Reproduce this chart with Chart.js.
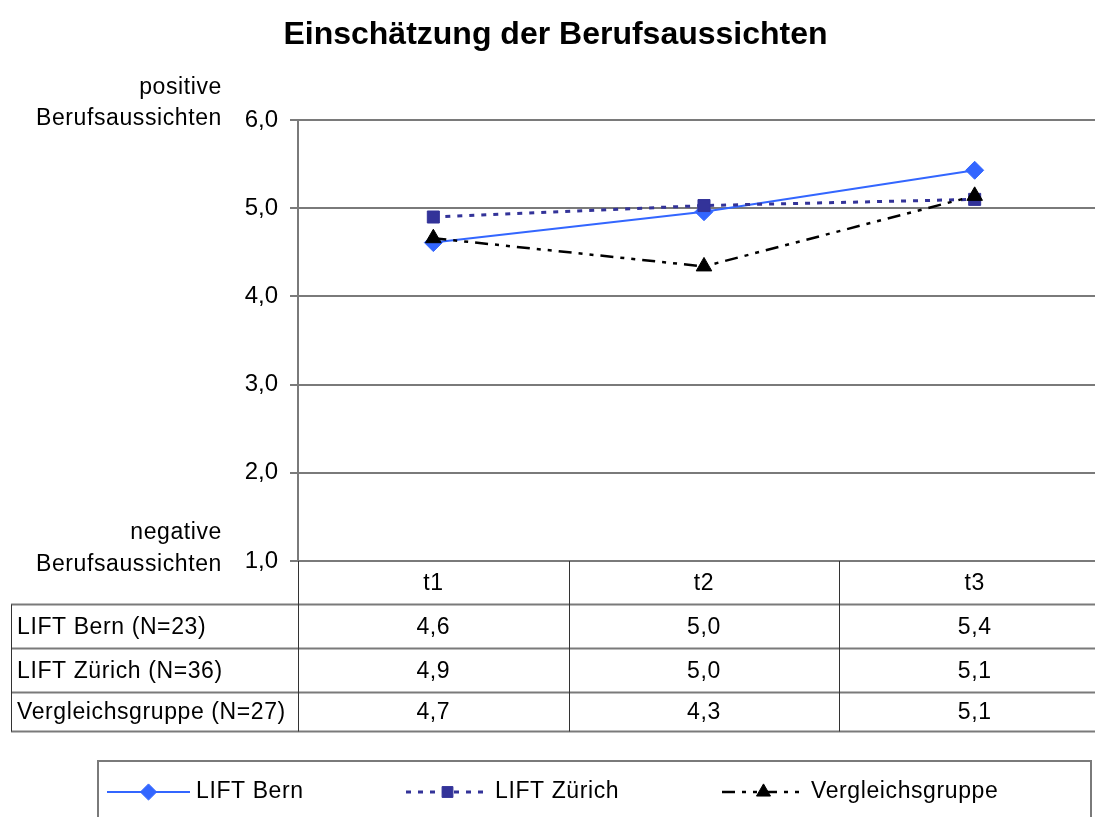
<!DOCTYPE html>
<html><head><meta charset="utf-8">
<script src="https://cdn.jsdelivr.net/npm/chart.js@4.4.1/dist/chart.umd.min.js"></script>
<style>
html,body{margin:0;padding:0;overflow:hidden;background:#fff;width:1095px;height:817px}
#wrap{position:absolute;left:0;top:0;width:1120px;height:817px}
</style></head><body><div id="wrap"><canvas id="c" width="1120" height="817"></canvas></div>
<script>
// ---- data ----
const categories = ['t1', 't2', 't3'];
const seriesNames = ['LIFT Bern', 'LIFT Zürich', 'Vergleichsgruppe'];
const sampleSizes = [23, 36, 27];
const bern = [4.61, 4.96, 5.43];
const zuerich = [4.90, 5.03, 5.10];
const vergleich = [4.66, 4.34, 5.14];
const yTicks = [1, 2, 3, 4, 5, 6];
const titleText = 'Einschätzung der Berufsaussichten';
const topAxisLabel = ['positive', 'Berufsaussichten'];
const bottomAxisLabel = ['negative', 'Berufsaussichten'];

const FONT = '"Liberation Sans", Arial, Helvetica, sans-serif';
const fmt = v => v.toFixed(1).replace('.', ',');

const seriesValues = [bern, zuerich, vergleich];
const styles = [
  {color:'#3366ff', width:2, dash:[], point:'rectRot', r:9, order:2},
  {color:'#333399', width:3, dash:[5,7], point:'rect', r:8.5, order:1},
  {color:'#000000', width:2.5, dash:[13,7,4,7,4,7], point:'triangle', r:9, order:0}
];

const datasets = seriesNames.map((name, i) => ({
  label: name,
  data: seriesValues[i],
  borderColor: styles[i].color,
  backgroundColor: styles[i].color,
  borderWidth: styles[i].width,
  borderDash: styles[i].dash,
  pointStyle: styles[i].point,
  pointRadius: styles[i].r,
  pointHoverRadius: styles[i].r,
  pointBackgroundColor: styles[i].color,
  pointBorderColor: styles[i].color,
  pointBorderWidth: 1,
  tension: 0,
  fill: false,
  order: styles[i].order
}));

const GRID = '#7a7a7a';
const TXT = '23px ' + FONT;
const SPACING = '0.6px';

const extras = {
  id: 'extras',
  afterDraw(chart) {
    const ctx = chart.ctx;
    const ca = chart.chartArea;
    const ys = chart.scales.y, xs = chart.scales.x;
    const n = categories.length;
    const colW = (ca.right - ca.left) / n;
    ctx.save();
    ctx.letterSpacing = SPACING;
    ctx.fillStyle = '#000';
    // side axis labels
    ctx.font = TXT;
    ctx.textAlign = 'right';
    ctx.textBaseline = 'middle';
    const yTop = ys.getPixelForValue(6), yBot = ys.getPixelForValue(1);
    ctx.fillText(topAxisLabel[0], 222, yTop - 32);
    ctx.fillText(topAxisLabel[1], 222, yTop - 1);
    ctx.fillText(bottomAxisLabel[0], 222, yBot - 28);
    ctx.fillText(bottomAxisLabel[1], 222, yBot + 4);

    // data table
    const tableLeft = 11;
    const rightEdge = chart.width;
    const rowTops = [yBot, yBot + 43.5, yBot + 87.5, yBot + 131.5, yBot + 170.5];
    ctx.strokeStyle = GRID;
    ctx.lineWidth = 2;
    for (let k = 1; k < rowTops.length; k++) {
      ctx.beginPath();
      ctx.moveTo(tableLeft, rowTops[k]);
      ctx.lineTo(rightEdge, rowTops[k]);
      ctx.stroke();
    }
    ctx.strokeStyle = '#333';
    ctx.lineWidth = 1;
    ctx.beginPath();
    ctx.moveTo(tableLeft + 0.5, rowTops[1]);
    ctx.lineTo(tableLeft + 0.5, rowTops[4]);
    ctx.stroke();
    for (let c = 0; c <= n; c++) {
      const x = Math.round(ca.left + c * colW) + 0.5;
      ctx.beginPath();
      ctx.moveTo(x, rowTops[0]);
      ctx.lineTo(x, rowTops[4]);
      ctx.stroke();
    }
    ctx.font = TXT;
    ctx.textAlign = 'center';
    ctx.textBaseline = 'middle';
    categories.forEach((cat, i) => {
      ctx.fillText(cat, xs.getPixelForValue(i), (rowTops[0] + rowTops[1]) / 2 + 1);
    });
    seriesNames.forEach((name, r) => {
      const yc = (rowTops[r + 1] + rowTops[r + 2]) / 2 + 1;
      ctx.textAlign = 'left';
      ctx.fillText(name + ' (N=' + sampleSizes[r] + ')', 17, yc);
      ctx.textAlign = 'center';
      seriesValues[r].forEach((v, i) => {
        ctx.fillText(fmt(v), xs.getPixelForValue(i), yc);
      });
    });

    // legend
    const lgTop = 761, lgLeft = 98, lgRight = 1091;
    ctx.strokeStyle = GRID;
    ctx.lineWidth = 2;
    ctx.beginPath();
    ctx.moveTo(lgLeft, 840);
    ctx.lineTo(lgLeft, lgTop);
    ctx.lineTo(lgRight, lgTop);
    ctx.lineTo(lgRight, 840);
    ctx.stroke();
    const itemX = [107, 406, 722];
    const ly = 792;
    chart.data.datasets.forEach((ds, i) => {
      const x0 = itemX[i], x1 = x0 + 83;
      ctx.save();
      ctx.strokeStyle = ds.borderColor;
      ctx.lineWidth = ds.borderWidth;
      ctx.setLineDash(ds.borderDash || []);
      ctx.beginPath();
      ctx.moveTo(x0, ly);
      ctx.lineTo(x1, ly);
      ctx.stroke();
      ctx.setLineDash([]);
      ctx.fillStyle = ds.pointBackgroundColor;
      ctx.strokeStyle = ds.pointBorderColor;
      ctx.lineWidth = 1;
      Chart.helpers.drawPoint(ctx, {pointStyle: ds.pointStyle, radius: ds.pointRadius * 0.9, rotation: 0, borderWidth: 1}, (x0 + x1) / 2, ly);
      ctx.restore();
      ctx.fillStyle = '#000';
      ctx.font = TXT;
      ctx.textAlign = 'left';
      ctx.textBaseline = 'middle';
      ctx.fillText(ds.label, x1 + 6, ly);
    });
    ctx.restore();
  }
};

new Chart(document.getElementById('c'), {
  type: 'line',
  data: { labels: categories, datasets },
  plugins: [extras],
  options: {
    responsive: false,
    animation: false,
    devicePixelRatio: 1,
    layout: { padding: { left: 0, right: 9, top: 0, bottom: 256 } },
    plugins: {
      legend: { display: false },
      tooltip: { enabled: false },
      title: {
        display: true,
        text: titleText,
        color: '#000',
        font: { family: FONT, size: 32, weight: 'bold', lineHeight: 1.2 },
        padding: { top: 16, bottom: 65.6 }
      }
    },
    scales: {
      x: {
        type: 'category',
        display: false,
        offset: true
      },
      y: {
        min: 1, max: 6,
        afterBuildTicks: s => { s.ticks = yTicks.map(v => ({ value: v })); },
        afterFit: s => { s.width = 298; },
        ticks: {
          callback: v => fmt(v),
          color: '#000',
          font: { family: FONT, size: 24 },
          padding: 12
        },
        grid: { color: GRID, lineWidth: 2, tickLength: 8, drawTicks: true },
        border: { display: true, color: GRID, width: 2 }
      }
    }
  }
});
</script></body></html>
